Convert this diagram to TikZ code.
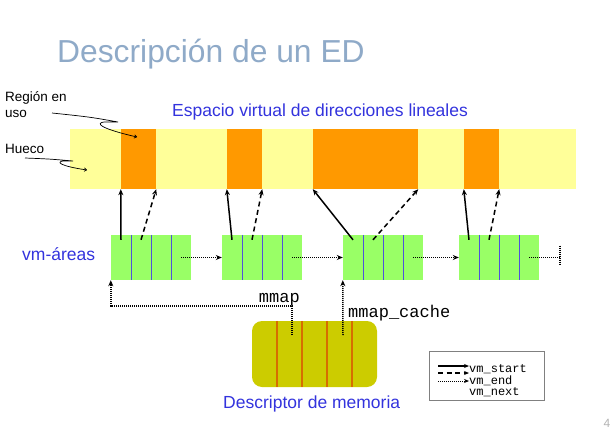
\documentclass[tikz,border=0pt]{standalone}
\usepackage{fontspec}
\setmainfont{Liberation Sans}
\setmonofont{Liberation Mono}
\usetikzlibrary{arrows.meta,calc}

\definecolor{colortitulo}{RGB}{143,170,200}
\definecolor{azul}{RGB}{51,51,221}
\definecolor{colhueco}{RGB}{255,255,153}
\definecolor{coluso}{RGB}{255,153,0}
\definecolor{colarea}{RGB}{153,255,102}
\definecolor{coldivisor}{RGB}{80,80,220}
\definecolor{colmm}{RGB}{204,204,0}
\definecolor{colmmlinea}{RGB}{214,110,0}

\tikzset{
  enuso/.style={fill=coluso, inner sep=0pt, minimum height=60pt},
  celda/.style={fill=colarea, inner sep=0pt, minimum width=20pt, minimum height=45pt},
  vmstart/.style={line width=1.5pt, -{Stealth[length=6pt,width=5pt]}},
  vmend/.style={line width=1.5pt, dash pattern=on 5pt off 3.5pt, -{Stealth[length=6pt,width=5pt]}},
  vmnext/.style={line width=1.5pt, dash pattern=on 1pt off 1pt, -{Stealth[length=6pt,width=5pt]}},
  llamada/.style={line width=0.7pt, -{To[length=3pt,width=4pt]}},
  texto/.style={anchor=base west, inner sep=0pt},
}

\begin{document}
\begin{tikzpicture}[x=1pt,y=-1pt]
\useasboundingbox (0,0) rectangle (614,434);

% titulo
\node[texto, text=colortitulo, font=\fontsize{31.8}{31.8}\selectfont] (titulo) at (57,62) {Descripción de un ED};

% espacio virtual
\node[texto, text=azul, font=\fontsize{17.5}{17.5}\selectfont] (espacio) at (172,116) {Espacio virtual de direcciones lineales};
\node[fill=colhueco, inner sep=0pt, minimum width=506pt, minimum height=60pt] (barra) at (323,159) {};
\node[enuso, minimum width=35pt] (u1) at (138.5,159) {};
\node[enuso, minimum width=35pt] (u2) at (244.5,159) {};
\node[enuso, minimum width=105pt] (u3) at (365.5,159) {};
\node[enuso, minimum width=35pt] (u4) at (481.5,159) {};

% etiquetas de la izquierda
\node[texto, font=\fontsize{13.5}{13.5}\selectfont] (lregion) at (5,101) {Región en};
\node[texto, font=\fontsize{13.5}{13.5}\selectfont] (luso) at (5,117) {uso};
\node[texto, font=\fontsize{13.5}{13.5}\selectfont] (lhueco) at (5,153) {Hueco};
\draw[llamada] (52,113) .. controls (90,117) .. (118,122) -- (104,122)
  .. controls (96,123) and (98,128) .. (137,137);
\draw[llamada] (25,158) .. controls (50,159) .. (73,161) -- (63,161)
  .. controls (56,162) and (60,166) .. (87,170);

% vm-areas
\node[texto, text=azul, font=\fontsize{17.5}{17.5}\selectfont] (lareas) at (22,260) {vm-áreas};
\foreach \i/\x in {1/111,2/222,3/343,4/459}{
  \foreach \j in {1,...,4}
    \node[celda] (a\i-\j) at (\x+20*\j-10,257.5) {};
  \foreach \j in {1,2,3}
    \draw[coldivisor, line width=0.9pt] (a\i-\j.north east) -- (a\i-\j.south east);
}
\foreach \i in {1,...,4}{
  \draw[vmstart] ($(a\i-1.north)+(0,5)$) -- (u\i.south west);
  \draw[vmend] ($(a\i-2.north)+(0,5)$) -- (u\i.south east);
}
\foreach \i/\k in {1/2,2/3,3/4}
  \draw[vmnext] (a\i-4.center) -- (a\k-1.west);
\coordinate (nulo) at (560,257.5);
\draw[vmnext, -] (a4-4.center) -- (nulo);
\draw[vmnext, -] ($(nulo)+(0,-12)$) -- ($(nulo)+(0,8)$);

% descriptor de memoria
\node[fill=colmm, rounded corners=10pt, inner sep=0pt, minimum width=125pt, minimum height=66pt] (desc) at (314.5,354) {};
\foreach \k in {1,...,4}
  \draw[colmmlinea, line width=1.4pt] ([xshift=25*\k]desc.north west) -- ([xshift=25*\k]desc.south west);
\node[texto, text=azul, font=\fontsize{17.5}{17.5}\selectfont] (ldesc) at (223,408) {Descriptor de memoria};

\coordinate (mmap0) at (292,335);
\coordinate (mmap1) at (292,306);
\draw[vmnext] (mmap0) -- (mmap1) -| (a1-1.south west);
\node[anchor=base east, inner sep=0pt, font=\ttfamily\fontsize{17}{17}\selectfont] (lmmap) at (300,302) {mmap};
\coordinate (cache0) at (343,335);
\draw[vmnext] (cache0) -- (a3-1.south west);
\node[texto, font=\ttfamily\fontsize{17}{17}\selectfont] (lcache) at (348,317) {mmap\_cache};

% leyenda
\node[draw=gray, line width=0.8pt, inner sep=0pt, minimum width=115pt, minimum height=49pt] (leyenda) at (486.5,376) {};
\node[texto, font=\ttfamily\fontsize{12}{12}\selectfont] (tstart) at (469,372) {vm\_start};
\node[texto, font=\ttfamily\fontsize{12}{12}\selectfont] (tend) at (469,384) {vm\_end};
\node[texto, font=\ttfamily\fontsize{12}{12}\selectfont] (tnext) at (469,395) {vm\_next};
\draw[vmstart, line width=1.2pt, -{Stealth[length=5pt,width=4pt]}] (438,366) -- (469,366);
\draw[vmend, line width=1.2pt, -{Stealth[length=5pt,width=4pt]}] (438,373) -- (469,373);
\draw[vmnext, line width=1pt, -{Stealth[length=5pt,width=4pt]}] (438,381) -- (469,381);

% numero de pagina
\node[anchor=base, inner sep=0pt, text=gray!60, font=\fontsize{12}{12}\selectfont] (pag) at (607,427) {4};
\end{tikzpicture}
\end{document}
